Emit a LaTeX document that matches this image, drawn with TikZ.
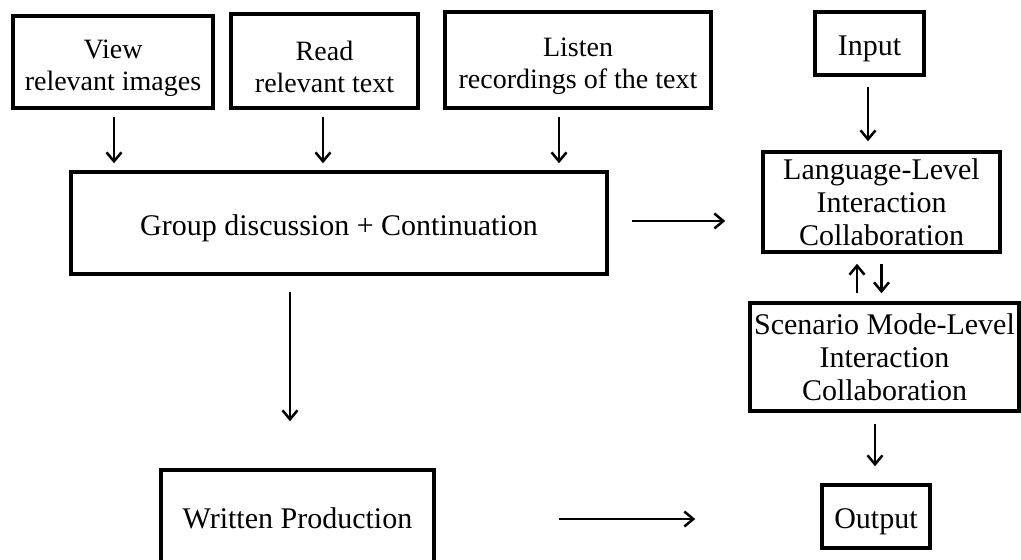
\documentclass[tikz,border=0pt]{standalone}
\usepackage{fontspec}
\setmainfont{Liberation Serif}
\usetikzlibrary{arrows.meta,calc}
\newcommand{\sstrut}{\rule{0pt}{31pt}}
\tikzset{
  box/.style={draw=black, line width=3.5pt, inner sep=0pt, align=center, fill=white},
  big/.style={font=\fontsize{30pt}{33pt}\selectfont},
  small/.style={font=\fontsize{28pt}{32pt}\selectfont},
  arr/.style={line width=2.5pt, -{Straight Barb[length=9pt,width=15pt,line width=2.5pt]}}
}
\begin{document}
\begin{tikzpicture}[x=1pt,y=-1pt]
\useasboundingbox (0,0) rectangle (1021,560);
\fill[white] (0,0) rectangle (1021,560);
% top row
\node[box,small,minimum width=200pt,minimum height=92pt] (view) at (113,62) {\sstrut View\\relevant images};
\node[box,small,minimum width=187pt,minimum height=94pt] (read) at (324.5,61) {\sstrut Read\\relevant text};
\node[box,small,minimum width=266pt,minimum height=96pt] (listen) at (578,60) {\sstrut Listen\\recordings of the text};
\node[box,big,minimum width=109pt,minimum height=63pt] (input) at (869.5,43.5) {\rule{0pt}{31pt}Input};
% middle
\node[box,big,minimum width=536pt,minimum height=102pt] (group) at (339,223) {\rule{0pt}{31pt}Group discussion + Continuation};
\node[box,big,minimum width=237pt,minimum height=100pt] (lang) at (881.5,202) {Language-Level\\Interaction\\Collaboration};
\node[box,big,minimum width=269pt,minimum height=108pt] (scen) at (884.5,357) {Scenario Mode-Level\\Interaction\\Collaboration};
% bottom
\node[box,big,minimum width=273pt,minimum height=96pt] (written) at (297.5,518) {Written Production};
\node[box,big,minimum width=108pt,minimum height=63pt] (output) at (876,516.5) {\rule{0pt}{31pt}Output};
% arrows into group
\coordinate (v1) at ([xshift=1pt,yshift=-7pt]view.south);
\draw[arr] (v1) -- ([yshift=7pt]v1 |- group.north);
\coordinate (r1) at ([xshift=-1.5pt,yshift=-7pt]read.south);
\draw[arr] (r1) -- ([yshift=7pt]r1 |- group.north);
\coordinate (l1) at ([xshift=-19pt,yshift=-7pt]listen.south);
\draw[arr] (l1) -- ([yshift=7pt]l1 |- group.north);
% input to lang
\coordinate (i1) at ([xshift=-1.5pt,yshift=-10pt]input.south);
\draw[arr] (i1) -- ([yshift=9pt]i1 |- lang.north);
% group to lang
\coordinate (g1) at ([xshift=23pt,yshift=2pt]group.east);
\draw[arr] (g1) -- ([xshift=-36pt]g1 -| lang.west);
% group to written
\coordinate (gw) at ([xshift=-49pt,yshift=-16pt]group.south);
\draw[arr] (gw) -- ([yshift=47pt]gw |- written.north);
% lang <-> scenario
\coordinate (d1) at ([yshift=-10pt]lang.south);
\draw[arr] (d1) -- ([yshift=8pt]d1 |- scen.north);
\coordinate (u1) at ([xshift=-24.5pt,yshift=8pt]scen.north -| lang.south);
\draw[arr] (u1) -- ([yshift=-10pt]u1 |- lang.south);
% scenario to output
\coordinate (s1) at ([xshift=-1pt,yshift=-11pt]output.north |- scen.south);
\draw[arr] (s1) -- ([xshift=-1pt,yshift=17pt]output.north);
% written to output
\coordinate (w1) at ([xshift=123pt,yshift=-1pt]written.east);
\draw[arr] (w1) -- ([xshift=-125pt]w1 -| output.west);
\end{tikzpicture}
\end{document}
